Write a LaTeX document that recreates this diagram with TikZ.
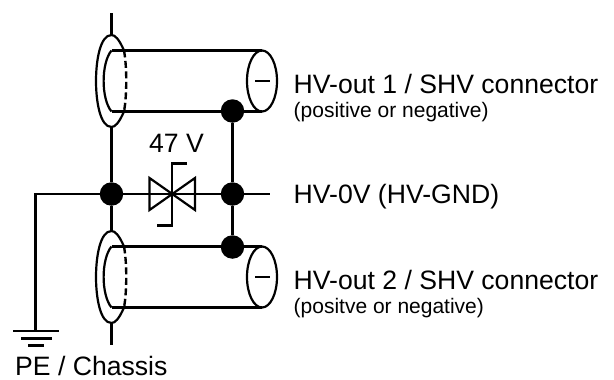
\documentclass[tikz,border=0pt]{standalone}
\usepackage{fontspec}
\setmainfont{Liberation Sans}
\begin{document}
\begin{tikzpicture}[x=1pt,y=-1pt,
  wire/.style={line width=2.8pt,black},
  thinwire/.style={line width=2.4pt,black},
  tube/.style={line width=3pt,black},
  junction/.style={circle,fill=black,inner sep=0pt,minimum size=23.5pt},
  big/.style={inner sep=0pt,anchor=base west,font=\fontsize{26.6}{26.6}\selectfont},
  small/.style={inner sep=0pt,anchor=base west,font=\fontsize{21}{21}\selectfont},
  shell/.style={line width=2.2pt,black},
  shelld/.style={line width=2.4pt,black,dash pattern=on 7pt off 3.5pt}]
\useasboundingbox (0,0) rectangle (614,380);
\node[junction] (jl) at (111.5,194) {};
\node[junction] (jr) at (232.5,194) {};
\node[junction] (jt) at (232.5,111) {};
\node[junction] (jb) at (232.5,247) {};
\coordinate (top) at (111.5,13);
\coordinate (bot) at (111.5,345);
\coordinate (gnd) at (35.5,331);
\coordinate (hv) at (270,194);
% wires
\draw[wire] (top) -- (111.5,35);
\draw[wire] (111.5,127) -- (jl) -- (111.5,232);
\draw[wire] (111.5,324) -- (bot);
\draw[thinwire] (jt) -- (jr);
\draw[wire] (jr) -- (jb);
\draw[wire] (gnd) |- (jl);
\draw[wire] (jl) -- (jr) -- (hv);
% cables
\foreach \cy/\s in {81/a,277/b}{
  \draw[tube] (111.5,\cy-30.5) -- (262,\cy-30.5);
  \draw[tube] (111.5,\cy+30.5) -- (262,\cy+30.5);
  \draw[shell] (262,\cy) ellipse [x radius=15,y radius=30.5];
  \draw[wire] (255,\cy) -- (270,\cy);
  % inner left arc
  \draw[shell] (111.5,\cy-30.5) .. controls (101,\cy-18) and (101,\cy+18) .. (111.5,\cy+30.5);
  % outer flange
  \draw[shell] (124,\cy-30.5) .. controls (119,\cy-42) and (115,\cy-46) .. (111.5,\cy-46)
     .. controls (100,\cy-46) and (96,\cy-20) .. (96,\cy)
     .. controls (96,\cy+20) and (100,\cy+46) .. (111.5,\cy+46)
     .. controls (115,\cy+46) and (119,\cy+42) .. (124,\cy+30.5);
  \draw[shelld] (124,\cy-30.5) .. controls (127,\cy-14) and (127,\cy+14) .. (124,\cy+30.5);
}
% suppressor diode
\draw[shell] (149.5,178) -- (149.5,210) -- (195,178) -- (195,210) -- cycle;
\draw[shell] (187,163.5) -- (172,163.5) -- (172,225.5) -- (157,225.5);
% ground
\draw[wire] (13,331) -- (59,331);
\draw[wire] (21,338.5) -- (52,338.5);
\draw[wire] (28,345.5) -- (44,345.5);
% labels
\node[big] (l47) at (149,152) {47 V};
\node[big] (l1) at (293.5,93) {HV-out 1 / SHV connector};
\node[small] (l1b) at (293.5,117) {(positive or negative)};
\node[big] (l0) at (293.5,203) {HV-0V (HV-GND)};
\node[big] (l2) at (293.5,289) {HV-out 2 / SHV connector};
\node[small] (l2b) at (293.5,313) {(positve or negative)};
\node[big] (lpe) at (15,375) {PE / Chassis};
\end{tikzpicture}
\end{document}
